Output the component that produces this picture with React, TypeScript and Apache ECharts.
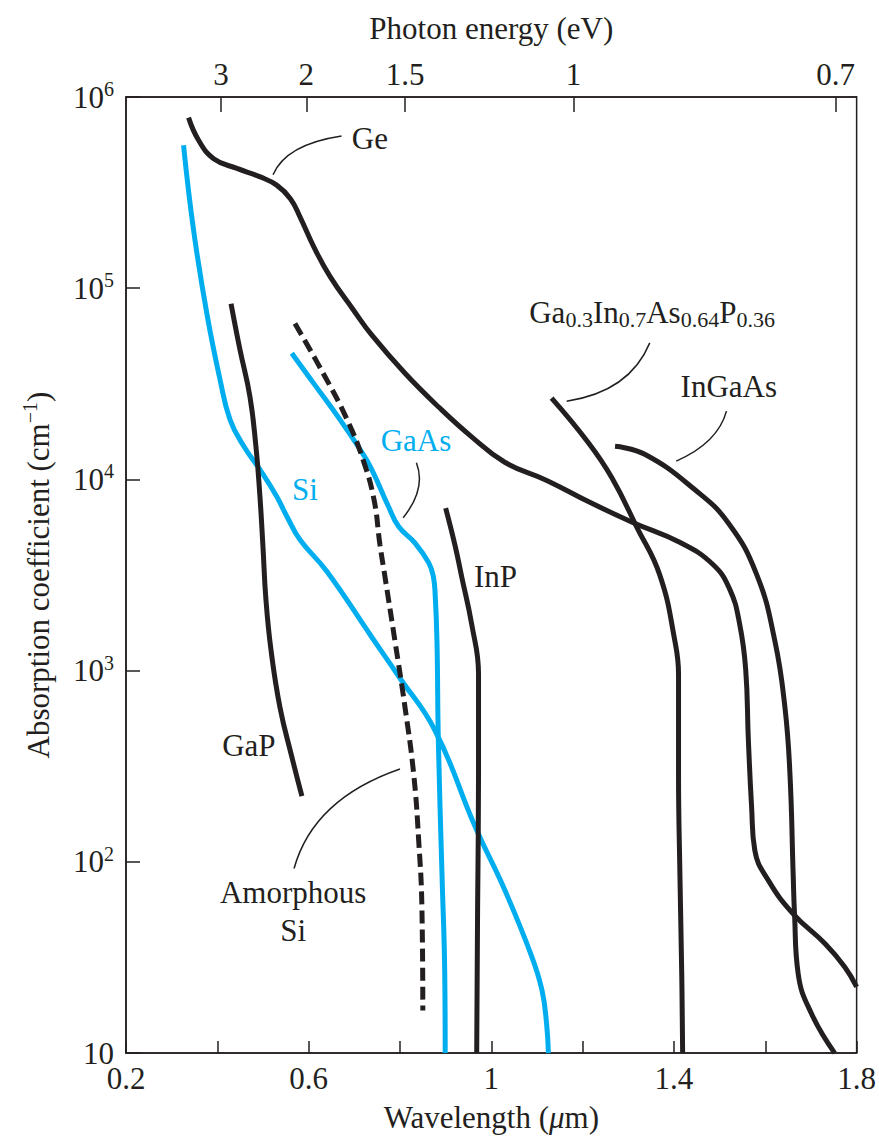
import React, { useEffect, useRef } from "react";
import * as echarts from "echarts";

const FONT = '"Liberation Serif", "Times New Roman", serif';
const INK = "#231f20";
const BLUE = "#00aeef";

// [wavelength (µm), absorption coefficient (cm^-1)]
const geData = [
  [0.337, 7.8e5], [0.359, 5.94e5], [0.392, 4.76e5], [0.443, 4.23e5], [0.494, 3.82e5],
  [0.53, 3.46e5], [0.56, 2.94e5], [0.581, 2.36e5], [0.611, 1.65e5], [0.647, 1.15e5],
  [0.698, 7.7e4], [0.738, 5.7e4], [0.811, 3.59e4], [0.884, 2.4e4], [0.957, 1.67e4],
  [1.0295, 1.23e4], [1.1214, 9.88e3], [1.2156, 7.59e3], [1.3097, 5.96e3], [1.4125, 4.69e3],
  [1.4848, 3.6e3], [1.522, 2.67e3], [1.5439, 1.75e3], [1.557, 1.02e3], [1.563, 430],
  [1.57, 194], [1.577, 115], [1.607, 79.8], [1.661, 53.5], [1.731, 37.3],
  [1.774, 28.2], [1.8, 22.2],
];
const siData = [
  [0.326, 5.6e5], [0.348, 2.01e5], [0.377, 7.38e4], [0.406, 3.32e4], [0.428, 2.05e4],
  [0.458, 1.49e4], [0.494, 1.12e4], [0.53, 8.15e3], [0.5546, 6.25e3], [0.581, 4.84e3],
  [0.64, 3.3e3], [0.738, 1.5e3], [0.797, 935], [0.877, 485], [0.965, 152], [1.03, 70.8],
  [1.089, 31.8], [1.111, 21.3], [1.121, 14.3], [1.125, 10],
];
const gaasData = [
  [0.563, 4.57e4], [0.611, 3.18e4], [0.669, 2.05e4], [0.713, 1.43e4], [0.738, 1.13e4],
  [0.775, 7.2e3], [0.797, 5.67e3], [0.833, 4.65e3], [0.863, 3.66e3], [0.873, 3.11e3],
  [0.877, 2.51e3], [0.881, 1.43e3], [0.884, 430], [0.892, 86.5], [0.898, 26], [0.899, 10],
];
const amorphousSiData = [
  [0.57, 6.53e4], [0.631, 3.62e4], [0.684, 2.06e4], [0.719, 1.27e4], [0.743, 7.87e3],
  [0.756, 4.58e3], [0.767, 3.11e3], [0.789, 1.43e3], [0.811, 643], [0.83, 288],
  [0.841, 129], [0.848, 58], [0.85, 16.7],
];
const gapData = [
  [0.43, 8.3e4], [0.4495, 4.78e4], [0.4714, 2.71e4], [0.4845, 1.49e4], [0.4933, 8.15e3],
  [0.4999, 4.47e3], [0.5064, 2.36e3], [0.5174, 1.29e3], [0.5371, 644], [0.5633, 353], [0.5852, 221],
];
const inpData = [
  [0.9, 7.08e3], [0.921, 4.47e3], [0.935, 3.11e3], [0.957, 1.75e3], [0.972, 960],
  [0.972, 288], [0.97, 58.2], [0.968, 10],
];
const gainaspData = [
  [1.132, 2.66e4], [1.213, 1.55e4], [1.264, 1.02e4], [1.318, 5.67e3], [1.369, 3.16e3],
  [1.402, 1.43e3], [1.41, 960], [1.41, 288], [1.413, 86.5], [1.417, 26], [1.419, 10],
];
const ingaasData = [
  [1.271, 1.49e4], [1.337, 1.35e4], [1.446, 8.83e3], [1.519, 5.92e3], [1.581, 3.19e3],
  [1.621, 1.43e3], [1.643, 643], [1.654, 288], [1.661, 86.5], [1.664, 53.5],
  [1.672, 26], [1.701, 16.1], [1.752, 10],
];

const wavelengthTicks = [0.2, 0.4, 0.6, 0.8, 1.0, 1.2, 1.4, 1.6, 1.8];
const wavelengthLabels = [0.2, 0.6, 1.0, 1.4, 1.8];
const energyLabels = ["3", "2", "1.5", "1", "0.7"];
const energyTickWavelengths = [0.408, 0.595, 0.811, 1.18, 1.754];

// annotation anchors: [wavelength, log10(alpha)]
const curveLabels = [
  { text: "Ge", at: [0.734, 5.785], color: INK },
  { text: "Si", at: [0.592, 3.948], color: BLUE },
  { text: "GaAs", at: [0.835, 4.204], color: BLUE },
  { text: "InP", at: [1.009, 3.493], color: INK },
  { text: "GaP", at: [0.469, 2.61], color: INK },
  { text: "Amorphous", at: [0.566, 1.838], color: INK },
  { text: "Si", at: [0.566, 1.64], color: INK },
  { text: "Ga{s|0.3}In{s|0.7}As{s|0.64}P{s|0.36}", at: [1.352, 4.875], color: INK },
  { text: "InGaAs", at: [1.52, 4.486], color: INK },
];
// leader curves: start, control, end  ([wavelength, log10(alpha)])
const leaders = [
  [[0.672, 5.796], [0.55, 5.752], [0.522, 5.593]],
  [[0.836, 4.087], [0.858, 3.952], [0.807, 3.8]],
  [[0.568, 1.965], [0.61, 2.329], [0.8, 2.486]],
  [[1.347, 4.714], [1.303, 4.459], [1.165, 4.409]],
  [[1.515, 4.357], [1.496, 4.191], [1.405, 4.096]],
];

const lineSeries = (name: string, data: number[][], color: string, dashed = false) => ({
  name,
  type: "line",
  data,
  xAxisIndex: 0,
  yAxisIndex: 0,
  showSymbol: false,
  symbol: "none",
  smooth: 0.45,
  silent: true,
  lineStyle: { color, width: 5, type: dashed ? [13, 6] : "solid", cap: "butt" },
  z: 3,
});

export default function App() {
  const ref = useRef<HTMLDivElement>(null);
  useEffect(() => {
    const chart = echarts.init(ref.current!, null, { renderer: "svg" });
    const textBase = { fontFamily: FONT, fontSize: 31, color: INK };
    const option: any = {
      animation: false,
      backgroundColor: "#ffffff",
      grid: {
        left: 126, top: 97, width: 731, height: 957,
        show: true, borderColor: INK, borderWidth: 1.5, backgroundColor: "transparent",
      },
      xAxis: [
        {
          type: "value", position: "bottom", min: 0.2, max: 1.8, interval: 0.2,
          axisLine: { show: true, onZero: false, lineStyle: { color: INK, width: 1.5 } },
          axisTick: { show: true, inside: true, length: 12, lineStyle: { color: INK, width: 1.5 }, customValues: wavelengthTicks },
          axisLabel: {
            ...textBase, margin: 10, customValues: wavelengthLabels,
            formatter: (v: number) => String(+v.toFixed(1)),
          },
          splitLine: { show: false },
          name: "Wavelength ({i|μ}m)", nameLocation: "middle", nameGap: 38,
          nameTextStyle: { ...textBase, lineHeight: 36, rich: { i: { ...textBase, fontStyle: "italic", lineHeight: 36 } } },
        },
        {
          type: "value", position: "top", min: 0.2, max: 1.8,
          axisLine: { show: true, onZero: false, lineStyle: { color: INK, width: 1.5 } },
          axisTick: { show: true, inside: true, length: 15, lineStyle: { color: INK, width: 1.5 }, customValues: energyTickWavelengths },
          axisLabel: {
            ...textBase, margin: 7, customValues: energyTickWavelengths,
            formatter: (v: number) => {
              let best = 0;
              energyTickWavelengths.forEach((w, i) => {
                if (Math.abs(w - v) < Math.abs(energyTickWavelengths[best] - v)) best = i;
              });
              return energyLabels[best];
            },
          },
          splitLine: { show: false },
          name: "Photon energy (eV)", nameLocation: "middle", nameGap: 51,
          nameTextStyle: { ...textBase, lineHeight: 36 },
        },
      ],
      yAxis: [
        {
          type: "log", logBase: 10, min: 10, max: 1e6,
          axisLine: { show: true, onZero: false, lineStyle: { color: INK, width: 1.5 } },
          axisTick: { show: true, inside: true, length: 14, lineStyle: { color: INK, width: 1.5 } },
          minorTick: { show: false },
          axisLabel: {
            ...textBase, margin: 12, lineHeight: 36,
            formatter: (v: number) => {
              const e = Math.round(Math.log10(v));
              return e === 1 ? "10" : `10{sup|${e}}`;
            },
            rich: { sup: { fontFamily: FONT, fontSize: 20, color: INK, lineHeight: 16, verticalAlign: "top" } },
          },
          splitLine: { show: false },
          name: "Absorption coefficient (cm{sup|−1})", nameLocation: "middle", nameGap: 70,
          nameTextStyle: {
            ...textBase, lineHeight: 36,
            rich: { sup: { fontFamily: FONT, fontSize: 20, color: INK, lineHeight: 16, verticalAlign: "top" } },
          },
        },
      ],
      series: [
        lineSeries("Ge", geData, INK),
        lineSeries("Si", siData, BLUE),
        lineSeries("GaAs", gaasData, BLUE),
        lineSeries("Amorphous Si", amorphousSiData, INK, true),
        lineSeries("GaP", gapData, INK),
        lineSeries("InP", inpData, INK),
        lineSeries("Ga0.3In0.7As0.64P0.36", gainaspData, INK),
        lineSeries("InGaAs", ingaasData, INK),
      ],
    };
    chart.setOption(option);

    const toPx = (p: number[]) =>
      chart.convertToPixel({ xAxisIndex: 0, yAxisIndex: 0 }, [p[0], Math.pow(10, p[1])]) as number[];

    const graphics: any[] = [];
    curveLabels.forEach((l) => {
      const [x, y] = toPx(l.at);
      graphics.push({
        type: "text", x, y, z: 20,
        style: {
          text: l.text, fill: l.color, fontFamily: FONT, fontSize: 31, lineHeight: 36,
          align: "center", verticalAlign: "middle",
          rich: { s: { fill: l.color, fontFamily: FONT, fontSize: 22, lineHeight: 16, verticalAlign: "bottom" } },
        },
      });
    });
    leaders.forEach((c) => {
      const [x1, y1] = toPx(c[0]);
      const [cpx1, cpy1] = toPx(c[1]);
      const [x2, y2] = toPx(c[2]);
      graphics.push({
        type: "bezierCurve", z: 20,
        shape: { x1, y1, cpx1, cpy1, x2, y2 },
        style: { stroke: INK, lineWidth: 1.5, fill: null },
      });
    });
    chart.setOption({ graphic: graphics });
    return () => chart.dispose();
  }, []);
  return (
    <div
      ref={ref}
      style={{ position: "fixed", left: 0, top: 0, width: 879, height: 1140, background: "#fff" }}
    />
  );
}
